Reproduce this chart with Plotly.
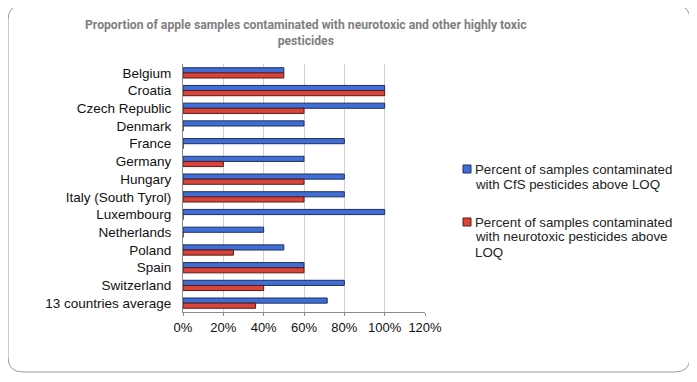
import plotly.graph_objects as go

countries = ["Belgium", "Croatia", "Czech Republic", "Denmark", "France", "Germany",
             "Hungary", "Italy (South Tyrol)", "Luxembourg", "Netherlands", "Poland",
             "Spain", "Switzerland", "13 countries average"]
cfs_pct = [50, 100, 100, 60, 80, 60, 80, 80, 100, 40, 50, 60, 80, 71.5]
neuro_pct = [50, 100, 60, 0, 0, 20, 60, 60, 0, 0, 25, 60, 40, 36]
x_ticks = [0, 20, 40, 60, 80, 100, 120]
x_labels = ["0%", "20%", "40%", "60%", "80%", "100%", "120%"]
legend_cfs = ["Percent of samples contaminated", "with CfS pesticides above LOQ"]
legend_neuro = ["Percent of samples contaminated", "with neurotoxic pesticides above", "LOQ"]
title_lines = "Proportion of apple samples contaminated with neurotoxic and other highly toxic<br>pesticides"

BLUE, BLUE_EDGE = "#3F6FD6", "#1E2E5C"
RED, RED_EDGE = "#D9443A", "#5A1A16"
FONT = "Liberation Sans, Arial, sans-serif"

OFF = 8  # page body margin
W, H = 697 - OFF, 382 - OFF
# plot area in reference page pixels
L, R, T, B = 183, 425, 64, 312

def px_x(p):
    return (p - L) / (R - L)

def px_y(p):
    return (B - p) / (B - T)

fig = go.Figure()
fig.add_trace(go.Bar(
    y=countries, x=cfs_pct, orientation="h", name=" ".join(legend_cfs),
    marker=dict(color=BLUE, line=dict(color=BLUE_EDGE, width=1)), showlegend=False,
))
fig.add_trace(go.Bar(
    y=countries, x=neuro_pct, orientation="h", name=" ".join(legend_neuro),
    marker=dict(color=RED, line=dict(color=RED_EDGE, width=1)), showlegend=False,
))

# rounded outer frame
x0, x1 = px_x(8), px_x(690)
y0, y1 = px_y(372), px_y(5)
rx = 15 / (R - L)
ry = 15 / (B - T)
path = (f"M {x0+rx},{y1} L {x1-rx},{y1} Q {x1},{y1} {x1},{y1-ry} "
        f"L {x1},{y0+ry} Q {x1},{y0} {x1-rx},{y0} L {x0+rx},{y0} "
        f"Q {x0},{y0} {x0},{y0+ry} L {x0},{y1-ry} Q {x0},{y1} {x0+rx},{y1} Z")
fig.add_shape(type="path", path=path, xref="paper", yref="paper",
              line=dict(color="#9A9A9A", width=1), layer="below")

# title
fig.add_annotation(
    text=title_lines, xref="paper", yref="paper", x=px_x(306), y=px_y(33),
    xanchor="center", yanchor="middle", showarrow=False,
    font=dict(family="Roboto, " + FONT, size=12.2, color="#7F7F7F", weight="bold"),
)

# legend (manual, to match compact layout)
def legend_item(lines, y_first, color, edge):
    fig.add_shape(type="rect", xref="paper", yref="paper",
                  x0=px_x(463), x1=px_x(471), y0=px_y(y_first + 4), y1=px_y(y_first - 4),
                  fillcolor=color, line=dict(color=edge, width=1))
    for i, line in enumerate(lines):
        fig.add_annotation(text=line, xref="paper", yref="paper",
                           x=px_x(473), y=px_y(y_first + 15 * i),
                           xanchor="left", yanchor="middle", showarrow=False,
                           font=dict(family=FONT, size=13.3, color="#222222"))

legend_item(legend_cfs, 169, BLUE, BLUE_EDGE)
legend_item(legend_neuro, 222, RED, RED_EDGE)

fig.update_layout(
    width=W, height=H,
    margin=dict(l=L - OFF, r=W - (R - OFF), t=T - OFF, b=H - (B - OFF), pad=0),
    paper_bgcolor="white", plot_bgcolor="white",
    barmode="group", bargap=0.42, bargroupgap=0.0,
    font=dict(family=FONT, size=13.5, color="#111111"),
    showlegend=False,
    xaxis=dict(range=[0, 120], tickvals=x_ticks, ticktext=x_labels,
               showgrid=True, gridcolor="#D0D0D0", gridwidth=1,
               showline=True, linecolor="#8C8C8C", linewidth=1,
               ticks="outside", ticklen=3, tickcolor="#8C8C8C",
               tickfont=dict(size=13), zeroline=False, fixedrange=True),
    yaxis=dict(autorange="reversed", showline=True, linecolor="#8C8C8C", linewidth=1,
               ticks="outside", ticklen=8, tickcolor="rgba(0,0,0,0)",
               fixedrange=True),
)

fig.write_html("out.html")
